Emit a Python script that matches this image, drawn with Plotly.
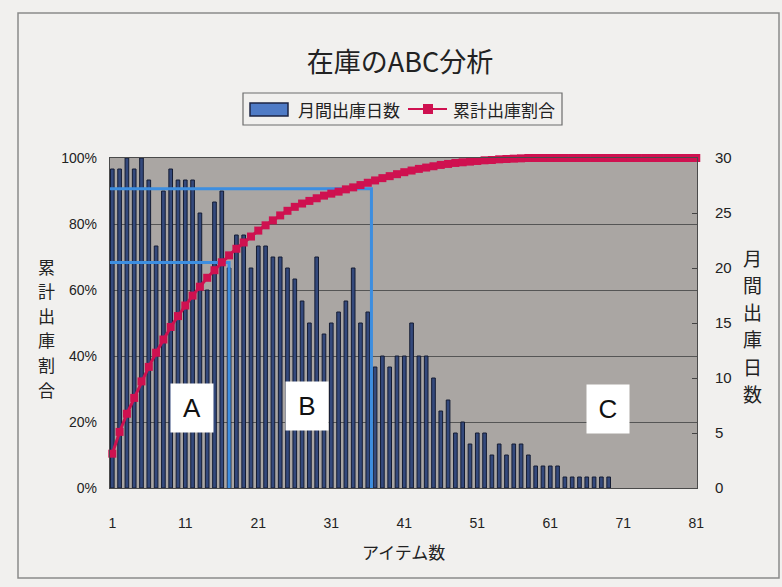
import plotly.graph_objects as go

# ---------------- data ----------------
items = list(range(1, 82))                     # item numbers 1..81
bar_items = list(range(1, 70))                 # items that have shipping days
monthly_days = [29, 29, 30, 29, 30, 28, 22, 27, 29, 28,
                28, 28, 25, 18, 26, 27, 20, 23, 23, 20,
                22, 22, 21, 21, 20, 19, 17, 15, 21, 14,
                15, 16, 17, 20, 15, 16, 11, 12, 11, 12,
                12, 15, 12, 12, 10, 7, 8, 5, 6, 4,
                5, 5, 3, 4, 3, 4, 4, 3, 2, 2,
                2, 2, 1, 1, 1, 1, 1, 1, 1]
cum_ratio_pct = [10.4, 17.0, 22.5, 27.3, 32.3, 36.7, 41.0, 45.0, 48.8, 52.1,
                 55.3, 58.3, 61.0, 63.7, 66.0, 68.4, 70.5, 72.5, 74.4, 76.2,
                 78.0, 79.6, 81.1, 82.6, 84.0, 85.2, 86.2, 87.0, 87.8, 88.6,
                 89.2, 89.8, 90.5, 91.1, 91.8, 92.5, 93.2, 93.9, 94.5, 95.1,
                 95.7, 96.2, 96.7, 97.1, 97.5, 97.9, 98.2, 98.5, 98.7, 98.9,
                 99.1, 99.3, 99.4, 99.6, 99.7, 99.8, 99.9] + [100.0] * 24
x_tick_vals = [1, 11, 21, 31, 41, 51, 61, 71, 81]

# ABC boundaries (item number, cumulative ratio)
a_boundary_item, a_boundary_ratio = 17, 0.683
b_boundary_item, b_boundary_ratio = 36.5, 0.907
zone_labels = ["A", "B", "C"]
zone_label_x = [11.9, 27.7, 68.9]
zone_label_y = [0.242, 0.248, 0.240]

title_text = "在庫のABC分析"
bar_name = "月間出庫日数"
line_name = "累計出庫割合"
x_title = "アイテム数"
left_title = "累計出庫割合"
right_title = "月間出庫日数"

# ---------------- layout geometry ----------------
W, H = 782, 587
ML, MR, MT, MB = 110, 85, 158, 99
PW = W - ML - MR
PH = H - MT - MB


def px(x):
    return (x - ML) / PW


def py(y):
    return (H - MB - y) / PH


CJK = "Noto Sans CJK JP, Noto Sans, sans-serif"
LAT = "Liberation Sans, Arial, sans-serif"
PINK = "#cf1150"
BLUE_LINE = "#3d8ee0"

fig = go.Figure()

# bars on the main (days) axis -> drawn first, underneath
fig.add_trace(go.Bar(
    x=bar_items, y=monthly_days, yaxis="y", name=bar_name,
    marker=dict(color="#34497c", line=dict(color="#141c33", width=1)),
    showlegend=False,
))

# ABC boundary lines and cumulative curve on the overlaid percent axis
fig.add_trace(go.Scatter(
    x=[0, a_boundary_item, a_boundary_item],
    y=[a_boundary_ratio, a_boundary_ratio, -0.05], yaxis="y2",
    mode="lines", line=dict(color=BLUE_LINE, width=3), showlegend=False,
    hoverinfo="skip",
))
fig.add_trace(go.Scatter(
    x=[0, b_boundary_item, b_boundary_item],
    y=[b_boundary_ratio, b_boundary_ratio, -0.05], yaxis="y2",
    mode="lines", line=dict(color=BLUE_LINE, width=3), showlegend=False,
    hoverinfo="skip",
))
fig.add_trace(go.Scatter(
    x=items, y=[v / 100 for v in cum_ratio_pct], yaxis="y2", name=line_name,
    mode="lines+markers",
    line=dict(color=PINK, width=3),
    marker=dict(symbol="square", size=8, color=PINK),
    cliponaxis=False, showlegend=False,
))

annotations = []
for lab, lx, ly in zip(zone_labels, zone_label_x, zone_label_y):
    annotations.append(dict(
        x=lx, y=ly, xref="x", yref="y2", text=lab, showarrow=False,
        bgcolor="white", width=40, height=46, align="center", valign="middle",
        font=dict(family=LAT, size=26, color="#111"),
    ))

# vertical axis titles, one character per line
for i, ch in enumerate(left_title):
    annotations.append(dict(
        x=px(46), y=py(266 + i * 24.6), xref="paper", yref="paper",
        text=ch, showarrow=False, xanchor="center", yanchor="middle",
        font=dict(family=CJK, size=17, color="#222"),
    ))
for i, ch in enumerate(right_title):
    annotations.append(dict(
        x=px(752), y=py(257 + i * 27.3), xref="paper", yref="paper",
        text=ch, showarrow=False, xanchor="center", yanchor="middle",
        font=dict(family=CJK, size=19, color="#222"),
    ))
annotations.append(dict(
    x=px(404), y=py(551), xref="paper", yref="paper",
    text=x_title, showarrow=False,
    font=dict(family=CJK, size=17, color="#222"),
    xanchor="center", yanchor="middle",
))

# manual legend
annotations.append(dict(
    x=px(296), y=py(110), xref="paper", yref="paper", text=bar_name,
    showarrow=False, xanchor="left", yanchor="middle",
    font=dict(family=CJK, size=17, color="#222"),
))
annotations.append(dict(
    x=px(451), y=py(110), xref="paper", yref="paper", text=line_name,
    showarrow=False, xanchor="left", yanchor="middle",
    font=dict(family=CJK, size=17, color="#222"),
))

shapes = [
    # outer chart border
    dict(type="rect", xref="paper", yref="paper",
         x0=px(18), x1=px(779), y0=py(578), y1=py(13),
         line=dict(color="#8a8a8a", width=1.5), layer="below"),
    # legend box
    dict(type="rect", xref="paper", yref="paper",
         x0=px(243), x1=px(562), y0=py(125), y1=py(93),
         line=dict(color="#6d6d6d", width=1.2)),
    # bar swatch
    dict(type="rect", xref="paper", yref="paper",
         x0=px(250), x1=px(288), y0=py(116), y1=py(103),
         fillcolor="#4f7bc6", line=dict(color="#1c2544", width=1.5)),
    # line swatch
    dict(type="line", xref="paper", yref="paper",
         x0=px(408), x1=px(447), y0=py(109), y1=py(109),
         line=dict(color=PINK, width=2)),
    dict(type="rect", xref="paper", yref="paper",
         x0=px(423), x1=px(433), y0=py(114), y1=py(104),
         fillcolor=PINK, line=dict(width=0)),
]

fig.update_layout(
    width=W, height=H,
    margin=dict(l=ML, r=MR, t=MT, b=MB),
    paper_bgcolor="#f1f0ee",
    plot_bgcolor="#aaa6a3",
    bargap=0.5,
    showlegend=False,
    title=dict(text=title_text, x=400 / W, xanchor="center",
               y=1 - 63 / H, yanchor="middle", yref="container",
               font=dict(family=CJK, size=27, color="#222")),
    xaxis=dict(
        range=[0.685, 81.1], tickvals=x_tick_vals,
        showgrid=False, zeroline=False,
        showline=True, mirror=True, linecolor="#4a4a4a", linewidth=1,
        ticks="", ticklabelstandoff=22,
        tickfont=dict(family=LAT, size=14, color="#222"),
    ),
    # days axis (right side) - main axis that carries the bars
    yaxis=dict(
        range=[0, 30], dtick=5, side="right",
        showgrid=False, zeroline=False,
        showline=True, mirror=True, linecolor="#4a4a4a", linewidth=1,
        ticks="inside", ticklen=5, tickcolor="#444",
        ticklabelstandoff=14,
        tickfont=dict(family=LAT, size=15, color="#222"),
    ),
    # cumulative ratio axis (left side), overlaid
    yaxis2=dict(
        range=[0, 1], dtick=0.2, tickformat=".0%", side="left",
        overlaying="y",
        showgrid=True, gridcolor="#555555", gridwidth=1, zeroline=False,
        ticks="", ticklabelstandoff=12,
        tickfont=dict(family=LAT, size=14, color="#222"),
    ),
    annotations=annotations,
    shapes=shapes,
)

fig.write_html("out.html")
